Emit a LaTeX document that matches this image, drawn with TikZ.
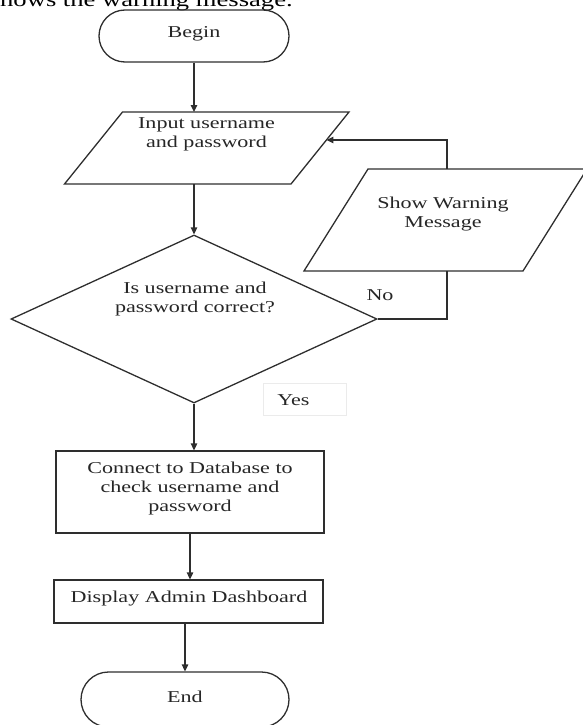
\documentclass[tikz,border=0pt]{standalone}
\usepackage{fontspec}
\setmainfont{Liberation Serif}[FakeStretch=1.33]
\usetikzlibrary{shapes.geometric,shapes.misc,arrows.meta,calc}
\begin{document}
\begin{tikzpicture}[x=1pt,y=-1pt,
  line/.style={draw=black!82, line width=1.3pt, line join=miter},
  arr/.style={line, -{Triangle[length=7pt,width=6.5pt]}},
  term/.style={rounded rectangle, line, minimum height=#1, inner sep=0pt},
  box/.style={rectangle, line, inner sep=0pt},
  txt/.style={align=center, inner sep=0pt, text=black!85, font=\fontsize{16.6}{19}\selectfont},
]
\useasboundingbox (0,0) rectangle (582,725);

% caption fragment at the top
\node[anchor=base west, inner sep=0pt, font=\fontsize{20}{24}\selectfont] (cap) at (0,6.5) {hows the warning message.};

% corner points of the two parallelograms
\coordinate (inpTL) at (122.5,112);
\coordinate (inpTR) at (349,112);
\coordinate (inpBR) at (291,184);
\coordinate (inpBL) at (64.5,184);
\coordinate (swTL) at (368,169);
\coordinate (swTR) at (587,169);
\coordinate (swBR) at (523,271);
\coordinate (swBL) at (304,271);
\coordinate (swtop) at (447,169);
\coordinate (swbot) at (447,271);

% shapes
\node[term=52pt, minimum width=190pt] (begin) at (194,36) {};
\draw[line] (inpTL) -- (inpTR) -- (inpBR) -- (inpBL) -- cycle;
\draw[line] (swTL) -- (swTR) -- (swBR) -- (swBL) -- cycle;
\node[diamond, line, inner sep=0pt, minimum width=366pt, minimum height=168pt] (dia) at (194,319) {};
\node[box, minimum width=268pt, minimum height=82pt] (con) at (190,492) {};
\node[box, minimum width=269pt, minimum height=43pt] (dis) at (188.5,601.5) {};
\node[term=55pt, minimum width=208pt] (end) at (185,699.5) {};
\node[rectangle, draw=black!8, line width=0.8pt, minimum width=83pt, minimum height=32pt] (yesbox) at (304.5,399) {};

% texts
\node[txt] (begint) at (194,33.5) {Begin};
\node[txt] (inpt) at (206.5,134) {Input username\\and password};
\node[txt] (swt) at (443,214.5) {Show Warning\\Message};
\node[txt] (diat) at (195,299) {Is username and\\password correct?};
\node[txt] (cont) at (190,488.5) {Connect to Database to\\check username and\\password};
\node[txt] (dist) at (189,598.5) {Display Admin Dashboard};
\node[txt] (endt) at (185,697) {End};
\node[txt] (no) at (380,295) {No};
\node[txt] (yes) at (293.5,400.5) {Yes};

% connectors
\coordinate (fbin) at ($(inpTR)!0.389!(inpBR)$);
\draw[arr] (begin.south) -- (begin.south |- inpTL);
\draw[arr] (dia.north |- inpBL) -- (dia.north);
\draw[arr] (swtop) |- (fbin);
\draw[line] (dia.east) -| (swbot);
\draw[arr] (dia.south) -- (dia.south |- con.north);
\draw[arr] (con.south) -- (con.south |- dis.north);
\draw[arr] (end.north |- dis.south) -- (end.north);
\end{tikzpicture}
\end{document}
